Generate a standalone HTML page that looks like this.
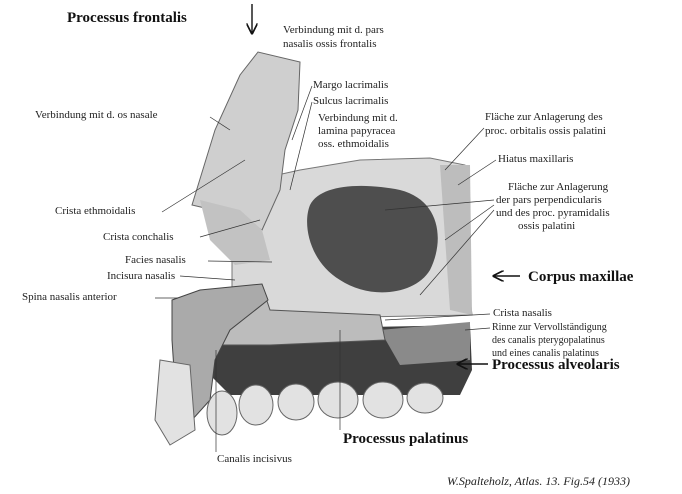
<!DOCTYPE html>
<html><head><meta charset="utf-8"><style>
html,body{margin:0;padding:0;background:#fff;}
body{width:682px;height:494px;overflow:hidden;position:relative;}
svg{position:absolute;left:0;top:0;}
text{font-family:"Liberation Serif",serif;font-size:11px;fill:#222;}
.b{font-family:"Liberation Serif",serif;font-weight:bold;font-size:15px;fill:#111;}
</style></head><body>
<svg width="682" height="494" viewBox="0 0 682 494">
<defs>
<marker id="a" markerWidth="8" markerHeight="8" refX="7" refY="4" orient="auto"><path d="M0,0 L8,4 L0,8" fill="none" stroke="#111" stroke-width="1.2"/></marker>
</defs>
<!-- bone body -->
<polygon points="232,185 300,170 360,160 430,158 465,165 470,200 468,280 472,315 300,318 232,300" fill="#d9d9d9" stroke="#777"/>
<!-- frontal process -->
<polygon points="192,205 215,130 240,75 258,52 300,62 298,110 285,150 280,190 262,230 235,215" fill="#cfcfcf" stroke="#666"/>
<polygon points="200,200 240,210 262,230 270,260 235,265 210,240" fill="#c2c2c2"/>
<!-- hiatus -->
<path d="M310,205 C320,185 360,182 400,190 C440,200 445,240 430,270 C415,295 370,300 340,280 C310,262 302,225 310,205 Z" fill="#4e4e4e"/>
<!-- right side darker -->
<polygon points="440,165 470,165 472,315 450,310" fill="#bdbdbd"/>
<!-- alveolar dark region -->
<polygon points="210,330 470,325 472,370 460,395 230,395 205,370" fill="#3f3f3f"/>
<polygon points="380,330 470,322 470,360 400,365" fill="#8a8a8a"/>
<!-- palatine band -->
<polygon points="200,292 262,286 270,310 380,315 385,340 270,345 215,345" fill="#bcbcbc" stroke="#555"/>
<polygon points="172,300 200,290 262,284 268,300 230,330 215,360 210,400 192,420 176,400 172,340" fill="#aaa" stroke="#444"/>
<!-- teeth -->
<g fill="#e2e2e2" stroke="#666">
<path d="M160,360 L190,365 L195,430 L170,445 L155,420 Z"/>
<ellipse cx="222" cy="413" rx="15" ry="22"/>
<ellipse cx="256" cy="405" rx="17" ry="20"/>
<ellipse cx="296" cy="402" rx="18" ry="18"/>
<ellipse cx="338" cy="400" rx="20" ry="18"/>
<ellipse cx="383" cy="400" rx="20" ry="18"/>
<ellipse cx="425" cy="398" rx="18" ry="15"/>
</g>
<!-- arrows -->
<line x1="252" y1="4" x2="252" y2="33" stroke="#111" stroke-width="1.4" marker-end="url(#a)"/>
<line x1="520" y1="276" x2="494" y2="276" stroke="#111" stroke-width="1.4" marker-end="url(#a)"/>
<line x1="488" y1="364" x2="458" y2="364" stroke="#111" stroke-width="1.4" marker-end="url(#a)"/>
<!-- leader lines -->
<g stroke="#333" stroke-width="0.7" fill="none">
<line x1="210" y1="117" x2="230" y2="130"/>
<line x1="162" y1="212" x2="245" y2="160"/>
<line x1="200" y1="237" x2="260" y2="220"/>
<line x1="208" y1="261" x2="272" y2="262"/>
<line x1="180" y1="276" x2="235" y2="280"/>
<line x1="155" y1="298" x2="178" y2="298"/>
<line x1="312" y1="86" x2="292" y2="140"/>
<line x1="312" y1="102" x2="290" y2="190"/>
<line x1="484" y1="128" x2="445" y2="170"/>
<line x1="496" y1="160" x2="458" y2="185"/>
<line x1="494" y1="200" x2="385" y2="210"/>
<line x1="494" y1="205" x2="445" y2="240"/>
<line x1="494" y1="210" x2="420" y2="295"/>
<line x1="490" y1="314" x2="385" y2="320"/>
<line x1="490" y1="328" x2="465" y2="330"/>
<line x1="216" y1="350" x2="216" y2="452"/>
<line x1="340" y1="330" x2="340" y2="430"/>
</g>
<!-- labels -->
<text x="67" y="22" class="b">Processus frontalis</text>
<text x="283" y="33">Verbindung mit d. pars</text>
<text x="283" y="47">nasalis ossis frontalis</text>
<text x="313" y="88">Margo lacrimalis</text>
<text x="313" y="104">Sulcus lacrimalis</text>
<text x="318" y="121">Verbindung mit d.</text>
<text x="318" y="134">lamina papyracea</text>
<text x="318" y="147">oss. ethmoidalis</text>
<text x="35" y="118">Verbindung mit d. os nasale</text>
<text x="485" y="120">Fläche zur Anlagerung des</text>
<text x="485" y="134">proc. orbitalis ossis palatini</text>
<text x="498" y="162">Hiatus maxillaris</text>
<text x="508" y="190">Fläche zur Anlagerung</text>
<text x="496" y="203">der pars perpendicularis</text>
<text x="496" y="216">und des proc. pyramidalis</text>
<text x="518" y="229">ossis palatini</text>
<text x="55" y="214">Crista ethmoidalis</text>
<text x="103" y="240">Crista conchalis</text>
<text x="125" y="263">Facies nasalis</text>
<text x="107" y="279">Incisura nasalis</text>
<text x="22" y="300">Spina nasalis anterior</text>
<text x="528" y="281" class="b">Corpus maxillae</text>
<text x="493" y="316">Crista nasalis</text>
<text x="492" y="330" style="font-size:10px">Rinne zur Vervollständigung</text>
<text x="492" y="343" style="font-size:10px">des canalis pterygopalatinus</text>
<text x="492" y="356" style="font-size:10px">und eines canalis palatinus</text>
<text x="492" y="369" class="b">Processus alveolaris</text>
<text x="343" y="443" class="b">Processus palatinus</text>
<text x="217" y="462">Canalis incisivus</text>
<text x="447" y="485" style="font-style:italic;font-size:12px">W.Spalteholz, Atlas. 13. Fig.54 (1933)</text>
</svg>
</body></html>
